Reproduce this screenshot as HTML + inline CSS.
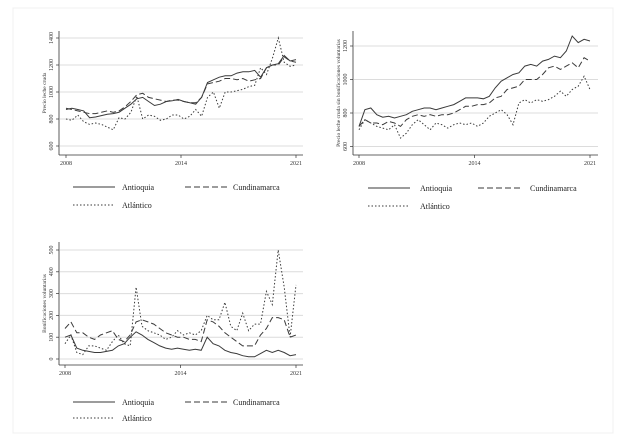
<!DOCTYPE html>
<html><head><meta charset="utf-8">
<style>
body{margin:0;background:#fff;}
svg{display:block;font-family:"Liberation Serif",serif;}
</style></head>
<body>
<svg id="c" width="618" height="437"></svg>
<script>
const years = Array.from({length:40},(_,i)=>2008+i/3);
const xTickVals = [2008, 2014.5, 2021];
const xTickLabels = ["2008","2014","2021"];
const seriesNames = ["Antioquia","Cundinamarca","Atlántico"];

const p1Antioquia = [870,880,870,860,810,815,825,835,840,850,880,910,950,960,930,900,910,930,935,945,930,920,910,960,1070,1090,1110,1120,1120,1140,1150,1150,1160,1110,1180,1200,1210,1270,1230,1240];
const p1Cundinamarca = [880,870,860,850,840,840,850,860,850,860,890,930,980,990,960,950,940,930,940,940,930,920,920,960,1060,1070,1080,1100,1100,1090,1100,1080,1090,1100,1180,1200,1200,1260,1230,1220];
const p1Atlantico = [800,790,830,780,760,770,760,740,720,810,800,850,970,800,830,820,790,800,830,830,800,820,870,820,960,1000,880,1000,1000,1010,1020,1040,1050,1180,1130,1250,1400,1220,1190,1200];
const p1Ticks = [600,800,1000,1200,1400];

const p2Antioquia = [720,820,830,790,775,780,770,780,790,810,820,830,830,820,830,840,850,870,890,890,890,885,900,950,990,1010,1030,1040,1080,1090,1080,1110,1120,1140,1130,1170,1260,1220,1240,1230];
const p2Cundinamarca = [720,760,740,740,730,750,740,720,760,780,790,780,790,780,790,790,800,820,840,840,850,850,860,890,900,940,950,960,1000,1000,1000,1030,1070,1080,1060,1080,1100,1070,1130,1110];
const p2Atlantico = [700,760,740,720,710,700,730,650,680,730,760,730,700,740,730,710,730,740,730,740,720,740,780,800,820,790,730,860,880,860,880,870,880,900,930,900,940,960,1020,940];
const p2Ticks = [600,800,1000,1200];

const p3Antioquia = [100,110,50,40,35,30,30,35,40,60,70,100,125,110,90,75,60,50,45,50,45,40,45,40,100,70,60,40,30,25,15,10,10,25,40,30,40,30,15,20];
const p3Cundinamarca = [140,170,120,120,100,90,110,120,130,90,80,110,170,180,170,160,140,120,110,100,100,90,90,80,180,170,150,120,100,80,60,60,60,110,140,190,190,180,100,110];
const p3Atlantico = [70,110,30,20,60,60,50,40,80,110,70,60,330,150,130,120,110,90,100,130,110,120,110,130,200,180,180,260,150,130,210,130,160,160,310,250,500,330,100,340];
const p3Ticks = [0,100,200,300,400,500];

const NS="http://www.w3.org/2000/svg";
const svg=document.getElementById('c');
function mk(tag,attrs,parent){const e=document.createElementNS(NS,tag);for(const k in attrs)e.setAttribute(k,attrs[k]);(parent||svg).appendChild(e);return e;}
const dashes=["", "6,3", "1.5,2"];

const frame=mk('rect',{x:13,y:8,width:600,height:425,fill:'none',stroke:'#f0f0f0','stroke-width':1});



function panel(cfg){
  const g=mk('g',{});
  
  
  const xs=v=>cfg.x0+(v-2008)/(2021-2008)*(cfg.x1-cfg.x0);
  const ys=v=>cfg.yA+(v-cfg.vA)/(cfg.vB-cfg.vA)*(cfg.yB-cfg.yA);
  cfg.yticks.forEach(t=>{
    const gl=mk('line',{x1:cfg.ax+1,x2:cfg.right,y1:ys(t),y2:ys(t),stroke:'#dcdcdc','stroke-width':1},g);
    
    mk('line',{x1:cfg.ax-3,x2:cfg.ax,y1:ys(t),y2:ys(t),stroke:'#333','stroke-width':0.7},g);
    const tx=mk('text',{x:cfg.ax-6,y:ys(t),'font-size':6,fill:'#333','text-anchor':'middle',transform:`rotate(-90 ${cfg.ax-6} ${ys(t)})`},g);
    tx.textContent=t;
  });
  mk('line',{x1:cfg.ax,x2:cfg.ax,y1:cfg.top,y2:cfg.base,stroke:'#333','stroke-width':0.8},g);
  mk('line',{x1:cfg.ax,x2:cfg.right,y1:cfg.base,y2:cfg.base,stroke:'#333','stroke-width':0.8},g);
  xTickVals.forEach((t,i)=>{
    mk('line',{x1:xs(t),x2:xs(t),y1:cfg.base,y2:cfg.base+3,stroke:'#333','stroke-width':0.7},g);
    const tx=mk('text',{x:xs(t),y:cfg.base+10,'font-size':6,fill:'#333','text-anchor':'middle'},g);
    tx.textContent=xTickLabels[i];
  });
  const yt=mk('text',{x:cfg.ax-13,y:(cfg.top+cfg.base)/2,'font-size':5.5,fill:'#333','text-anchor':'middle',transform:`rotate(-90 ${cfg.ax-13} ${(cfg.top+cfg.base)/2})`},g);
  yt.textContent=cfg.ylabel;
  cfg.series.forEach((s,k)=>{
    const d=s.map((v,i)=>(i?'L':'M')+xs(years[i]).toFixed(1)+','+ys(v).toFixed(1)).join('');
    const p=mk('path',{d:d,fill:'none',stroke:'#3a3a3a','stroke-width':1,'stroke-dasharray':dashes[k]},g);
    
    
  });
  const L=cfg.leg;
  const items=[[L.x1,L.y1,L.tx1],[L.x2,L.y1,L.tx2],[L.x1,L.y2,L.tx1]];
  items.forEach((it,k)=>{
    mk('line',{x1:it[0],x2:it[0]+42,y1:it[1],y2:it[1],stroke:'#3a3a3a','stroke-width':0.9,'stroke-dasharray':dashes[k]},g);
    const tx=mk('text',{x:it[0]+it[2],y:it[1]+3,'font-size':8,fill:'#222'},g);
    tx.textContent=seriesNames[k];
  });
}

panel({name:'panel-precio-leche-cruda',x0:66,x1:296,ax:59,right:303,top:31,base:155,vA:800,yA:119,vB:1200,yB:65,yticks:p1Ticks,
  ylabel:'Precio leche cruda',series:[p1Antioquia,p1Cundinamarca,p1Atlantico],
  leg:{x1:73,x2:185,y1:187,y2:205,tx1:49,tx2:48}});
panel({name:'panel-precio-sin-bonificaciones',x0:359,x1:590,ax:353,right:598,top:31,base:155,vA:800,yA:113,vB:1200,yB:46,yticks:p2Ticks,
  ylabel:'Precio leche cruda sin bonificaciones voluntarias',series:[p2Antioquia,p2Cundinamarca,p2Atlantico],
  leg:{x1:368,x2:478,y1:188,y2:206,tx1:52,tx2:52}});
panel({name:'panel-bonificaciones',x0:65,x1:296,ax:59,right:303,top:242,base:365,vA:0,yA:359,vB:500,yB:250,yticks:p3Ticks,
  ylabel:'Bonificaciones voluntarias',series:[p3Antioquia,p3Cundinamarca,p3Atlantico],
  leg:{x1:73,x2:185,y1:402,y2:418,tx1:49,tx2:48}});
</script>
</body></html>
